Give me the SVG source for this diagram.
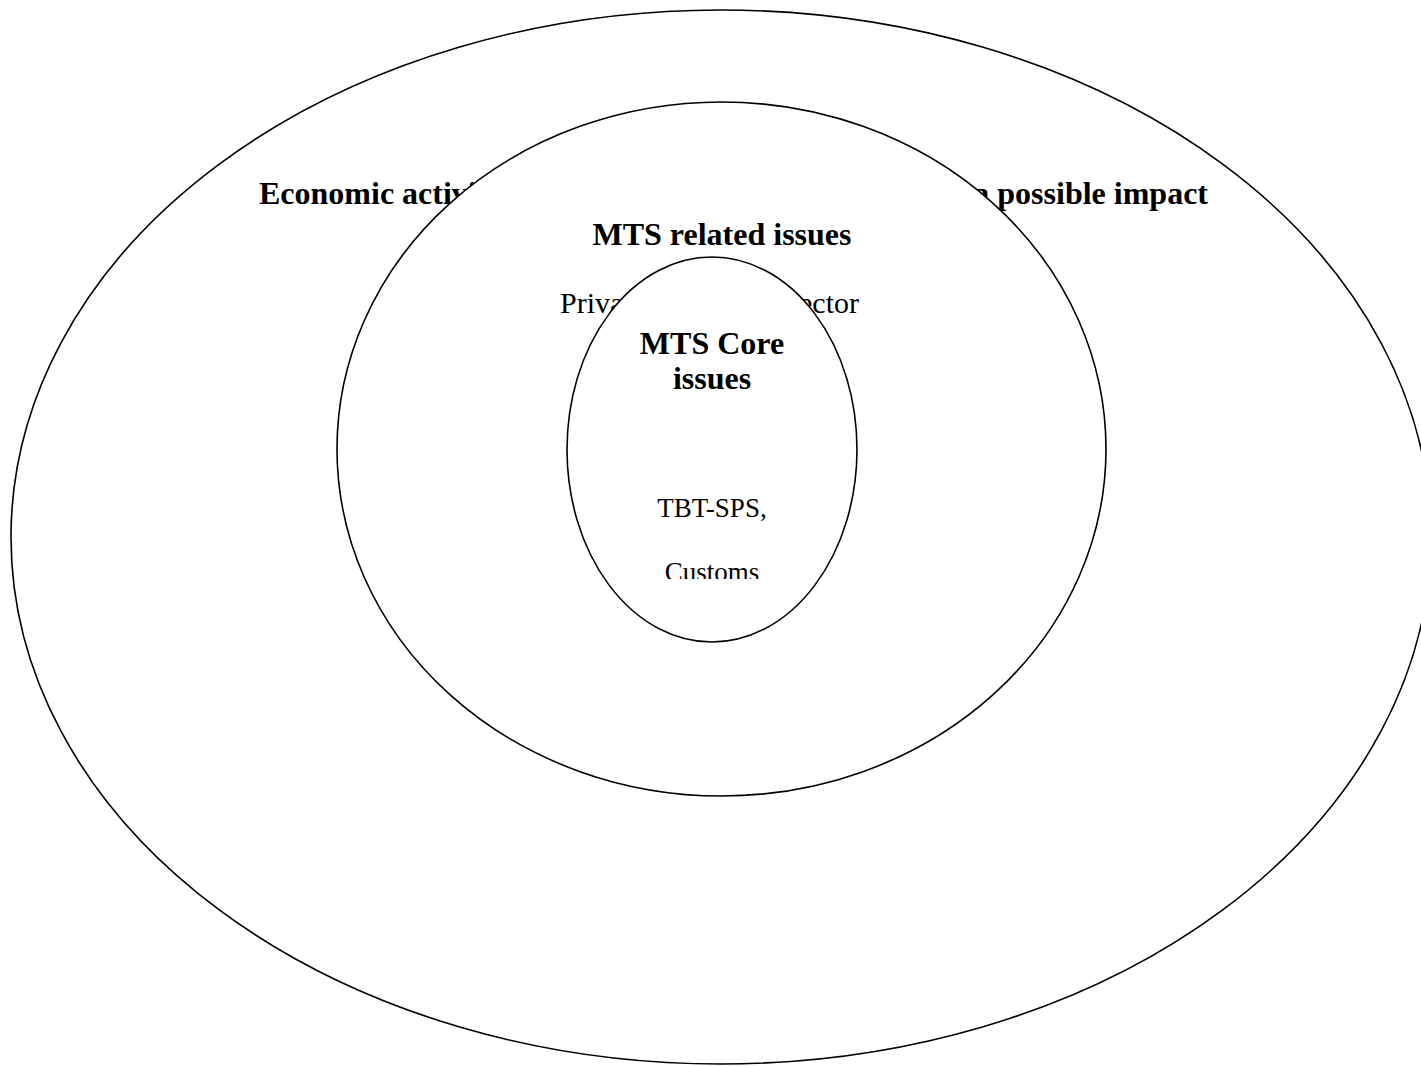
<svg xmlns="http://www.w3.org/2000/svg" width="1421" height="1066" viewBox="0 0 1421 1066">
  <style>
    .ring { fill: #ffffff; stroke: #000000; stroke-width: 1.6; }
    .bold { font-family: "Liberation Serif", "Times New Roman", serif; font-weight: bold; font-size: 32px; fill: #000000; }
    .plain { font-family: "Liberation Serif", "Times New Roman", serif; font-size: 30px; fill: #000000; }
    .small { font-family: "Liberation Serif", "Times New Roman", serif; font-size: 27px; fill: #000000; }
  </style>
  <defs>
    <clipPath id="coreClip">
      <rect x="560" y="250" width="310" height="329"/>
    </clipPath>
  </defs>
  <rect width="1421" height="1066" fill="#ffffff"/>

  <!-- outer layer: economic activities -->
  <g id="economic">
    <ellipse class="ring" cx="721" cy="537" rx="710" ry="527"/>
    <text class="bold" x="259" y="204">Economic activities</text>
    <text class="bold" x="1208" y="204" text-anchor="end">a possible impact</text>
  </g>

  <!-- middle layer: MTS related issues -->
  <g id="related">
    <ellipse class="ring" cx="721.5" cy="449" rx="384.5" ry="347"/>
    <text class="bold" x="722" y="245" text-anchor="middle">MTS related issues</text>
    <text class="plain" x="560" y="313">Private</text>
    <text class="plain" x="859" y="313" text-anchor="end">sector</text>
  </g>

  <!-- inner layer: MTS core issues -->
  <g id="core">
    <ellipse class="ring" cx="712" cy="449.5" rx="145" ry="192.5"/>
    <text class="bold" x="712" y="354" text-anchor="middle">MTS Core</text>
    <text class="bold" x="712" y="389" text-anchor="middle">issues</text>
    <g clip-path="url(#coreClip)">
      <text class="small" x="712" y="517" text-anchor="middle">TBT-SPS,</text>
      <text class="small" x="712" y="581" text-anchor="middle">Customs</text>
    </g>
  </g>

  <g id="connectors"/>
</svg>
